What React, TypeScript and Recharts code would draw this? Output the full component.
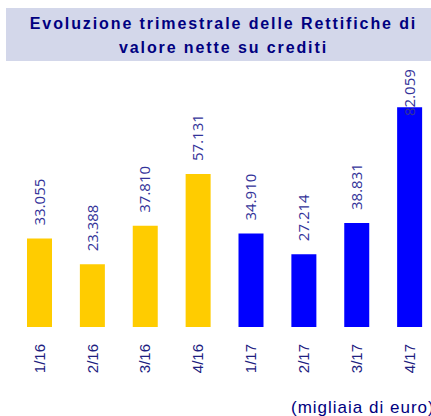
import { BarChart, Bar, XAxis, YAxis, Cell, LabelList } from "recharts";

const trimestri = ["1/16", "2/16", "3/16", "4/16", "1/17", "2/17", "3/17", "4/17"];
const rettifiche = [33055, 23388, 37810, 57131, 34910, 27214, 38831, 82059];
const coloriAnno = ["#FFCC00", "#FFCC00", "#FFCC00", "#FFCC00", "#0000FF", "#0000FF", "#0000FF", "#0000FF"];

const datos = trimestri.map((t, i) => ({ label: t, valore: rettifiche[i] }));

const fmtMigliaia = (v: number) => {
  const s = String(Math.round(v));
  return s.replace(/\B(?=(\d{3})+(?!\d))/g, ".");
};

function TickRuotato({ x, y, payload }: { x?: number; y?: number; payload?: { value: string } }) {
  const px = Number(x);
  const py = Number(y);
  return (
    <text
      x={px}
      y={py}
      dy="0.35em"
      textAnchor="end"
      transform={`rotate(-90, ${px}, ${py})`}
      fill="#202080"
      fontSize={15}
      fontFamily="'Liberation Sans', Arial, sans-serif"
    >
      {payload?.value}
    </text>
  );
}

function EtichettaValore(props: any) {
  const { x, y, width, value } = props;
  const cx = Number(x) + Number(width) / 2;
  // come in Excel: l'etichetta resta dentro l'area del grafico
  const sy = Math.max(Number(y) - 13, 116);
  return (
    <text
      x={cx}
      y={sy}
      dy="0.35em"
      textAnchor="start"
      transform={`rotate(-90, ${cx}, ${sy})`}
      fill="#333399"
      fontSize={15}
      fontFamily="'Open Sans', sans-serif"
    >
      {fmtMigliaia(Number(value))}
    </text>
  );
}

export default function App() {
  return (
    <div
      style={{
        position: "absolute",
        left: 0,
        top: 0,
        width: 431,
        height: 416,
        overflow: "hidden",
        background: "#fff",
      }}
    >
      <div
        style={{
          position: "absolute",
          left: 6,
          top: 8,
          width: 425,
          height: 53,
          background: "#d3d7ea",
          color: "#000080",
          fontFamily: "'Liberation Sans', Arial, sans-serif",
          fontWeight: "bold",
          fontSize: 16,
          lineHeight: "24px",
          letterSpacing: 1.9,
          textAlign: "center",
          paddingTop: 4,
          paddingLeft: 10,
          boxSizing: "border-box",
        }}
      >
        Evoluzione trimestrale delle Rettifiche di
        <br />
        valore nette su crediti
      </div>
      <BarChart
        width={436}
        height={416}
        data={datos}
        margin={{ top: 86, right: 0, left: 13, bottom: 0 }}
      >
        <XAxis
          dataKey="label"
          height={89}
          axisLine={false}
          tickLine={false}
          tickMargin={11}
          interval={0}
          tick={<TickRuotato />}
        />
        <YAxis hide domain={[0, 90000]} width={0} />
        <Bar dataKey="valore" barSize={25} isAnimationActive={false}>
          {datos.map((d, i) => (
            <Cell key={d.label} fill={coloriAnno[i]} />
          ))}
          <LabelList dataKey="valore" content={<EtichettaValore />} />
        </Bar>
      </BarChart>
      <div
        style={{
          position: "absolute",
          left: 291,
          top: 399,
          whiteSpace: "nowrap",
          color: "#000080",
          fontFamily: "'Liberation Sans', Arial, sans-serif",
          fontSize: 17,
          lineHeight: "17px",
          letterSpacing: 1,
        }}
      >
        (migliaia di euro)
      </div>
    </div>
  );
}
